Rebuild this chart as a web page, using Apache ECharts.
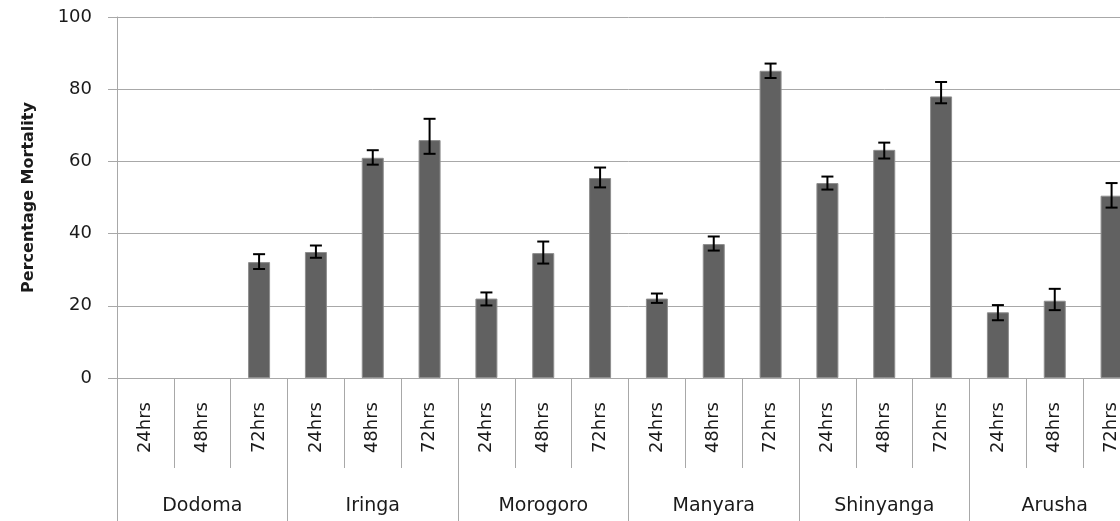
<!DOCTYPE html>
<html>
<head>
<meta charset="utf-8">
<script src="https://cdn.jsdelivr.net/npm/echarts@6/dist/echarts.min.js"></script>
<style>
  html, body { margin: 0; padding: 0; background: #fff; overflow: hidden; width: 1120px; height: 521px; }
  /* plot runs slightly past the right edge of the window */
  #chart { width: 1140px; height: 521px; }
</style>
</head>
<body>
<div id="chart"></div>
<script>
// Sites and exposure times
const regions = ['Dodoma', 'Iringa', 'Morogoro', 'Manyara', 'Shinyanga', 'Arusha'];
const times = ['24hrs', '48hrs', '72hrs'];

// Mean percentage mortality, three exposure times per site
const mortality = [
  0, 0, 32.1,
  34.9, 61.0, 65.9,
  22.0, 34.6, 55.4,
  22.0, 37.1, 85.1,
  54.0, 63.2, 78.0,
  18.2, 21.4, 50.5
];
// Error bar extents above / below each mean
const errUp = [
  0, 0, 2.2,
  1.8, 2.1, 5.9,
  1.7, 3.2, 2.9,
  1.4, 2.1, 2.0,
  1.8, 2.0, 4.0,
  2.0, 3.3, 3.5
];
const errDown = [
  0, 0, 1.9,
  1.6, 1.9, 3.8,
  1.9, 2.9, 2.6,
  1.2, 1.8, 2.0,
  1.8, 2.4, 1.9,
  2.2, 2.6, 3.3
];

const yTicks = { min: 0, max: 100, interval: 20 };

const hourCats = [];
regions.forEach(() => times.forEach(t => hourCats.push(t)));

// zero-height bars get no outline
const barData = mortality.map(v => v > 0 ? v : { value: v, itemStyle: { borderWidth: 0 } });
const errData = mortality.map((v, i) => [i, v, errUp[i], errDown[i]]);

const FONT = 'DejaVu Sans';
const GRID_LINE = '#a8a8a8';
const TEXT = '#1a1a1a';

const chart = echarts.init(document.getElementById('chart'), null, { renderer: 'canvas' });

chart.setOption({
  animation: false,
  backgroundColor: '#ffffff',
  grid: { left: 117, top: 17, right: 0, height: 361, containLabel: false },
  xAxis: [
    {
      type: 'category',
      data: hourCats,
      position: 'bottom',
      axisLine: { show: true, lineStyle: { color: GRID_LINE, width: 1 } },
      axisTick: { show: true, interval: 0, length: 90, lineStyle: { color: GRID_LINE, width: 1 } },
      axisLabel: {
        interval: 0, rotate: 90, margin: 24,
        fontFamily: FONT, fontSize: 18, color: TEXT
      },
      splitLine: { show: false }
    },
    {
      type: 'category',
      data: regions,
      position: 'bottom',
      axisLine: { show: false },
      axisTick: { show: true, interval: 0, length: 150, lineStyle: { color: GRID_LINE, width: 1 } },
      axisLabel: {
        interval: 0, margin: 119,
        fontFamily: FONT, fontSize: 19, color: TEXT
      },
      splitLine: { show: false }
    }
  ],
  yAxis: {
    type: 'value',
    min: yTicks.min,
    max: yTicks.max,
    interval: yTicks.interval,
    name: 'Percentage Mortality',
    nameLocation: 'middle',
    nameRotate: 90,
    nameGap: 80,
    nameTextStyle: { fontFamily: FONT, fontSize: 16, fontWeight: 'bold', color: TEXT },
    axisLine: { show: true, lineStyle: { color: GRID_LINE, width: 1 } },
    axisTick: { show: true, length: 9, lineStyle: { color: GRID_LINE, width: 1 } },
    axisLabel: { margin: 25, fontFamily: FONT, fontSize: 18, color: TEXT },
    splitLine: { show: true, lineStyle: { color: GRID_LINE, width: 1 } }
  },
  series: [
    {
      name: 'Mortality',
      type: 'bar',
      xAxisIndex: 0,
      data: barData,
      barWidth: 22,
      itemStyle: { color: '#616161', borderColor: '#8e8e8e', borderWidth: 1 },
      z: 2
    },
    {
      name: 'Error',
      type: 'custom',
      xAxisIndex: 0,
      data: errData,
      z: 3,
      renderItem: function (params, api) {
        const idx = api.value(0);
        const v = api.value(1);
        const up = api.value(2);
        const down = api.value(3);
        if (!(up > 0 || down > 0)) return null;
        const top = api.coord([idx, v + up]);
        const bot = api.coord([idx, v - down]);
        const x = top[0];
        const half = 6;
        const style = { stroke: '#000', lineWidth: 2 };
        return {
          type: 'group',
          children: [
            { type: 'line', shape: { x1: x, y1: top[1], x2: x, y2: bot[1] }, style },
            { type: 'line', shape: { x1: x - half, y1: top[1], x2: x + half, y2: top[1] }, style },
            { type: 'line', shape: { x1: x - half, y1: bot[1], x2: x + half, y2: bot[1] }, style }
          ]
        };
      }
    }
  ]
});
</script>
</body>
</html>
